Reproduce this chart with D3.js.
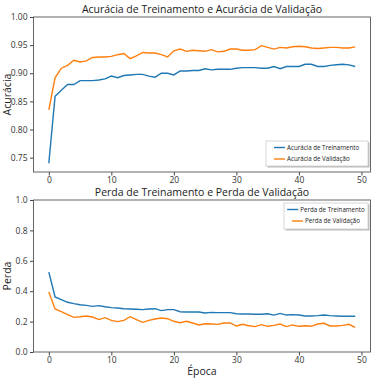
<!DOCTYPE html>
<html>
<head>
<meta charset="utf-8">
<script src="https://cdn.jsdelivr.net/npm/d3@7"></script>
<style>
  body { margin: 0; background: #fff; }
  text { font-family: "Open Sans", sans-serif; fill: #222; }
  .axis text { fill: #333; }
  .axis path, .axis line { stroke: #444; }
</style>
</head>
<body>
<div id="chart"></div>
<script>
// ==================================================
// DATA
// ==================================================

var epochs = d3.range(0, 50);

var accTrain = [0.740, 0.859, 0.870, 0.880, 0.880, 0.887, 0.887, 0.887, 0.888, 0.890,
                0.895, 0.892, 0.896, 0.897, 0.898, 0.898, 0.895, 0.893, 0.900, 0.900,
                0.897, 0.904, 0.904, 0.905, 0.905, 0.908, 0.906, 0.907, 0.907, 0.907,
                0.909, 0.910, 0.910, 0.910, 0.909, 0.909, 0.912, 0.908, 0.912, 0.912,
                0.912, 0.916, 0.916, 0.912, 0.912, 0.914, 0.915, 0.916, 0.915, 0.912];

var accVal   = [0.835, 0.892, 0.909, 0.914, 0.923, 0.920, 0.922, 0.928, 0.929, 0.929,
                0.930, 0.933, 0.935, 0.926, 0.931, 0.937, 0.936, 0.936, 0.933, 0.929,
                0.940, 0.943, 0.939, 0.941, 0.940, 0.939, 0.942, 0.938, 0.939, 0.943,
                0.943, 0.941, 0.941, 0.942, 0.949, 0.946, 0.943, 0.946, 0.945, 0.947,
                0.948, 0.947, 0.945, 0.944, 0.945, 0.946, 0.946, 0.945, 0.945, 0.947];

var lossTrain = [0.526, 0.362, 0.344, 0.327, 0.318, 0.311, 0.307, 0.300, 0.305, 0.298,
                 0.292, 0.289, 0.285, 0.283, 0.281, 0.279, 0.283, 0.285, 0.272, 0.279,
                 0.279, 0.265, 0.263, 0.263, 0.263, 0.257, 0.261, 0.259, 0.259, 0.259,
                 0.252, 0.250, 0.250, 0.248, 0.248, 0.252, 0.243, 0.254, 0.243, 0.246,
                 0.243, 0.237, 0.237, 0.239, 0.243, 0.239, 0.237, 0.235, 0.235, 0.235];

var lossVal   = [0.395, 0.283, 0.265, 0.246, 0.228, 0.232, 0.237, 0.230, 0.213, 0.226,
                 0.208, 0.200, 0.208, 0.232, 0.213, 0.195, 0.208, 0.217, 0.224, 0.219,
                 0.202, 0.193, 0.202, 0.191, 0.178, 0.186, 0.184, 0.182, 0.191, 0.191,
                 0.171, 0.182, 0.173, 0.167, 0.180, 0.169, 0.175, 0.184, 0.167, 0.178,
                 0.169, 0.173, 0.169, 0.184, 0.189, 0.171, 0.171, 0.175, 0.182, 0.162];

var xTicks    = [0, 10, 20, 30, 40, 50];
var accTicks  = [0.75, 0.80, 0.85, 0.90, 0.95, 1.00];
var lossTicks = [0.0, 0.2, 0.4, 0.6, 0.8, 1.0];

var blue   = "#1f77b4";
var orange = "#ff7f0e";

// ==================================================
// CANVAS
// ==================================================

var W = 374, H = 380;

var svg = d3.select("#chart")
  .append("svg")
    .attr("width", W)
    .attr("height", H);

svg.append("rect")
  .attr("width", W).attr("height", H)
  .attr("fill", "#fff");

// ==================================================
// PANEL
// ==================================================

function panel(opt) {
  var x = d3.scaleLinear()
    .domain([-2.45, 51.45])
    .range([opt.left, opt.right]);

  var y = d3.scaleLinear()
    .domain(opt.yDomain)
    .range([opt.bottom, opt.top]);

  var g = svg.append("g");

  // x axis
  g.append("g")
    .attr("class", "axis")
    .attr("transform", "translate(0," + opt.bottom + ")")
    .call(d3.axisBottom(x).tickValues(xTicks).tickSize(3.5).tickPadding(1.5).tickSizeOuter(0))
    .call(function(a) { a.select(".domain").remove(); })
    .selectAll("text")
      .attr("font-size", "8.5px");

  // y axis
  g.append("g")
    .attr("class", "axis")
    .attr("transform", "translate(" + opt.left + ",0)")
    .call(d3.axisLeft(y).tickValues(opt.yTicks).tickFormat(d3.format(opt.fmt))
      .tickSize(3.5).tickPadding(2.5).tickSizeOuter(0))
    .call(function(a) { a.select(".domain").remove(); })
    .selectAll("text")
      .attr("font-size", "8.5px");

  // lines
  var series = [
    { values: opt.s1, color: blue },
    { values: opt.s2, color: orange }
  ];

  series.forEach(function(s) {
    var line = d3.line()
      .x(function(d, i) { return x(epochs[i]); })
      .y(function(d) { return y(d); });

    g.append("path")
      .datum(s.values)
      .attr("fill", "none")
      .attr("stroke", s.color)
      .attr("stroke-width", 1.4)
      .attr("d", line);
  });

  // frame
  g.append("rect")
    .attr("x", opt.left)
    .attr("y", opt.top)
    .attr("width", opt.right - opt.left)
    .attr("height", opt.bottom - opt.top)
    .attr("fill", "none")
    .attr("stroke", "#555")
    .attr("stroke-width", 0.9);

  // title
  g.append("text")
    .attr("x", (opt.left + opt.right) / 2)
    .attr("y", opt.top - 4.5)
    .attr("text-anchor", "middle")
    .attr("font-size", "10.5px")
    .text(opt.title);

  // y label
  g.append("text")
    .attr("transform", "rotate(-90)")
    .attr("x", -(opt.top + opt.bottom) / 2)
    .attr("y", 11)
    .attr("text-anchor", "middle")
    .attr("font-size", "10.5px")
    .text(opt.ylabel);

  // legend
  var L = opt.legend;
  g.append("rect")
    .attr("x", L.x + 1.5).attr("y", L.y + 1.5)
    .attr("width", L.w).attr("height", L.h)
    .attr("fill", "#bbb");
  g.append("rect")
    .attr("x", L.x).attr("y", L.y)
    .attr("width", L.w).attr("height", L.h)
    .attr("fill", "#fff")
    .attr("stroke", "#ccc")
    .attr("stroke-width", 0.8);

  var items = g.selectAll(".legend")
    .data(opt.names)
    .enter()
      .append("g")
        .attr("class", "legend");

  items.append("line")
    .attr("x1", 0).attr("x2", 11)
    .attr("stroke", function(d, i) { return i ? orange : blue; })
    .attr("stroke-width", 1.4);

  items.append("text")
    .attr("x", 13)
    .attr("dy", "0.35em")
    .attr("font-size", "6.2px")
    .text(function(d) { return d; });

  // place rows: left aligned, or centred in the box
  items.attr("transform", function(d, i) {
    var ty = L.y + 6.5 + i * 11.5;
    var tx = L.x + 8;
    if (L.center) {
      var w = 13 + d3.select(this).select("text").node().getComputedTextLength();
      tx = L.x + (L.w - w) / 2;
    }
    return "translate(" + tx + "," + ty + ")";
  });

  return g;
}

panel({
  left: 33.5, right: 370.5, top: 17, bottom: 172,
  yDomain: [0.7245, 1.0], yTicks: accTicks, fmt: ".2f",
  s1: accTrain, s2: accVal,
  title: "Acurácia de Treinamento e Acurácia de Validação",
  ylabel: "Acurácia",
  names: ["Acurácia de Treinamento", "Acurácia de Validação"],
  legend: { x: 266, y: 141, w: 102, h: 25, center: false }
});

var bottom = panel({
  left: 33.5, right: 370.5, top: 200, bottom: 352,
  yDomain: [0, 1], yTicks: lossTicks, fmt: ".1f",
  s1: lossTrain, s2: lossVal,
  title: "Perda de Treinamento e Perda de Validação",
  ylabel: "Perda",
  names: ["Perda de Treinamento", "Perda de Validação"],
  legend: { x: 284, y: 203, w: 84, h: 26, center: true }
});

// x label
bottom.append("text")
  .attr("x", 202)
  .attr("y", 375)
  .attr("text-anchor", "middle")
  .attr("font-size", "10.5px")
  .text("Época");
</script>
</body>
</html>
